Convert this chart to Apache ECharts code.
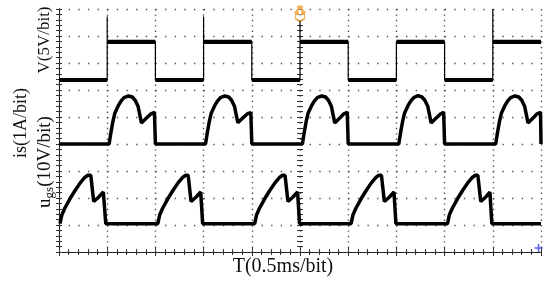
<!DOCTYPE html>
<html>
<head>
<meta charset="utf-8">
<script src="https://cdn.jsdelivr.net/npm/echarts@6/dist/echarts.min.js"></script>
<style>
	body{margin:0;background:#fff;}
	#scope{width:550px;height:281px;}
</style>
</head>
<body>
<div id="scope"></div>
<script>
// time in divisions (0.5ms/div), level in divisions
var vEdges = [1, 2, 3, 4, 5, 6, 7, 8, 9];
var vLow = 6.37, vHigh = 7.78;
var vSpikes = [[1, 8.72], [3, 8.72], [5, 8.55], [9, 9]];

var isData = [
	[0, 4.0], [1.04, 4.0], [1.08, 4.45], [1.12, 4.85], [1.16, 5.15], [1.23, 5.42], [1.29, 5.6], [1.35, 5.72], [1.44, 5.78], [1.52, 5.74], [1.58, 5.62], [1.64, 5.4], [1.68, 5.05], [1.71, 4.78], [1.81, 4.95], [1.91, 5.12], [1.98, 5.17], [2.0, 4.0],
	[3.04, 4.0], [3.08, 4.45], [3.12, 4.85], [3.16, 5.15], [3.23, 5.42], [3.29, 5.6], [3.35, 5.72], [3.44, 5.78], [3.52, 5.74], [3.58, 5.62], [3.64, 5.4], [3.68, 5.05], [3.71, 4.79], [3.81, 4.96], [3.91, 5.12], [3.98, 5.16], [4.0, 4.0],
	[5.05, 4.0], [5.09, 4.45], [5.13, 4.85], [5.17, 5.15], [5.24, 5.42], [5.3, 5.6], [5.36, 5.72], [5.45, 5.78], [5.53, 5.74], [5.59, 5.62], [5.65, 5.4], [5.69, 5.05], [5.72, 4.78], [5.82, 4.95], [5.91, 5.12], [5.98, 5.17], [6.0, 4.0],
	[7.05, 4.0], [7.09, 4.45], [7.13, 4.85], [7.17, 5.15], [7.24, 5.42], [7.3, 5.6], [7.36, 5.72], [7.45, 5.79], [7.53, 5.74], [7.59, 5.62], [7.65, 5.4], [7.69, 5.05], [7.72, 4.78], [7.82, 4.95], [7.92, 5.12], [7.98, 5.17], [8.0, 4.0],
	[9.06, 4.0], [9.1, 4.45], [9.14, 4.85], [9.18, 5.15], [9.25, 5.42], [9.31, 5.6], [9.37, 5.72], [9.46, 5.78], [9.54, 5.74], [9.6, 5.62], [9.66, 5.4], [9.7, 5.05], [9.73, 4.78], [9.83, 4.95], [9.92, 5.12], [9.99, 5.17], [10.0, 4.0]
];
var ugsData = [
	[0.02, 1.05], [0.06, 1.38], [0.12, 1.62], [0.23, 1.98], [0.33, 2.27], [0.44, 2.56], [0.54, 2.77], [0.6, 2.84], [0.66, 2.84], [0.69, 2.35], [0.72, 1.87], [0.82, 2.03], [0.92, 2.22], [0.96, 2.24], [0.97, 1.05],
	[2.05, 1.05], [2.09, 1.38], [2.15, 1.62], [2.26, 1.98], [2.36, 2.27], [2.47, 2.56], [2.57, 2.77], [2.63, 2.84], [2.68, 2.84], [2.71, 2.35], [2.74, 1.87], [2.84, 2.03], [2.94, 2.22], [2.97, 2.24], [2.98, 1.05],
	[4.06, 1.05], [4.1, 1.38], [4.16, 1.62], [4.27, 1.98], [4.37, 2.27], [4.48, 2.56], [4.58, 2.77], [4.64, 2.84], [4.69, 2.84], [4.72, 2.35], [4.75, 1.87], [4.85, 2.03], [4.95, 2.22], [4.98, 2.24], [4.99, 1.05],
	[6.06, 1.05], [6.1, 1.38], [6.16, 1.62], [6.27, 1.98], [6.37, 2.27], [6.48, 2.56], [6.58, 2.77], [6.64, 2.84], [6.69, 2.84], [6.72, 2.35], [6.75, 1.87], [6.85, 2.03], [6.95, 2.22], [6.98, 2.24], [6.99, 1.05],
	[8.06, 1.05], [8.1, 1.38], [8.16, 1.62], [8.27, 1.98], [8.37, 2.27], [8.48, 2.56], [8.58, 2.77], [8.64, 2.84], [8.69, 2.84], [8.72, 2.35], [8.75, 1.87], [8.85, 2.03], [8.94, 2.22], [8.97, 2.24], [8.98, 1.05],
	[10, 1.05]
];

var xName = 'T(0.5ms/bit)';
var yNames = ['V(5V/bit)', 'is(1A/bit)', 'ugs(10V/bit)'];

(function(){
	var chart = echarts.init(document.getElementById('scope'));

	// square wave: thin edges + thick plateaus
	var vEdge = [[0, vLow]], vFlat = [[0, vLow]];
	var level = vLow;
	vEdges.forEach(function(t){
		var next = level === vLow ? vHigh : vLow;
		vEdge.push([t, level]);
		var sp = vSpikes.filter(function(s){ return s[0] === t; })[0];
		if (sp) { vEdge.push([t, sp[1]]); }
		vEdge.push([t, next]);
		vFlat.push([t, level], [t, '-'], [t, next]);
		level = next;
	});
	vEdge.push([10, level]);
	vFlat.push([10, level]);

	var grid = {left: 59, top: 9, width: 482, height: 243};
	var frame = {show: true, lineStyle: {color: '#222', width: 1}};
	var tick = {show: true, inside: true, length: 4, lineStyle: {color: '#333'}};
	var minor = {show: true, splitNumber: 5, length: 3, lineStyle: {color: '#333'}};
	var dotsH = {show: true, lineStyle: {color: '#555', width: 1.4, type: [1.4, 8.24]}};
	var dotsV = {show: true, lineStyle: {color: '#555', width: 1.4, type: [1.4, 4.0]}};

	function xAx(pos, split){
		return {type: 'value', min: 0, max: 10, interval: 1, position: pos,
			axisLine: frame, axisTick: tick, minorTick: minor,
			axisLabel: {show: false}, splitLine: split ? dotsV : {show: false}};
	}
	function yAx(pos, split, offset, inside){
		return {type: 'value', min: 0, max: 9, interval: 1, position: pos, offset: offset || 0,
			axisLine: offset ? {show: false} : frame,
			axisTick: {show: true, inside: inside, length: 3, lineStyle: {color: '#333'}},
			minorTick: minor,
			axisLabel: {show: false}, splitLine: split ? dotsH : {show: false}};
	}

	var label = {fill: '#111', align: 'center', verticalAlign: 'middle'};
	function txt(x, y, rot, style){
		return {type: 'text', x: x, y: y, rotation: rot, style: Object.assign({}, label, style)};
	}

	chart.setOption({
		animation: false,
		grid: grid,
		xAxis: [xAx('bottom', true), xAx('top', false)],
		yAxis: [yAx('left', true, 0, true), yAx('right', false, 0, true), yAx('left', false, -241, true), yAx('left', false, -241, false)],
		series: [
			{type: 'line', data: vEdge, showSymbol: false, lineStyle: {color: '#000', width: 1.2}},
			{type: 'line', data: vFlat, showSymbol: false, connectNulls: false, lineStyle: {color: '#000', width: 4.2}},
			{type: 'line', data: isData, showSymbol: false, lineStyle: {color: '#000', width: 3.5}},
			{type: 'line', data: ugsData, showSymbol: false, lineStyle: {color: '#000', width: 3.5}},
			{type: 'scatter', xAxisIndex: 1, data: [[5, 9]], symbol: 'path://M3 0L7 0L7 1L3 1Z M5 1L9 6L6.5 6L6.5 8L9 8L9 13L5 16L1 13L1 8L3.5 8L3.5 6L1 6Z', symbolSize: [9, 15], symbolOffset: [0, 5], itemStyle: {color: 'rgba(255,255,255,0.6)', borderColor: '#f39b2c', borderWidth: 1.5}, silent: true},
			{type: 'scatter', data: [[9.95, 0.15]], symbol: 'path://M4 0L6 0L6 4L10 4L10 6L6 6L6 10L4 10L4 6L0 6L0 4L4 4Z', symbolSize: 8, itemStyle: {color: '#2b3cf0'}, silent: true}
		],
		graphic: [
			txt(283, 267, 0, {text: xName, font: '20px "Liberation Serif"'}),
			txt(45, 40, Math.PI / 2, {text: yNames[0], font: '17px "Liberation Serif"'}),
			txt(21, 123, Math.PI / 2, {text: yNames[1], font: '18px "Liberation Serif"'}),
			txt(45, 162, Math.PI / 2, {
				text: '{m|u}{s|gs}{m|(10V/bit)}',
				rich: {
					m: {fontFamily: 'Liberation Serif', fontSize: 19},
					s: {fontFamily: 'Liberation Serif', fontSize: 13, padding: [10, 0, 0, 0]}
				}
			})
		]
	});
})();
</script>
</body>
</html>
